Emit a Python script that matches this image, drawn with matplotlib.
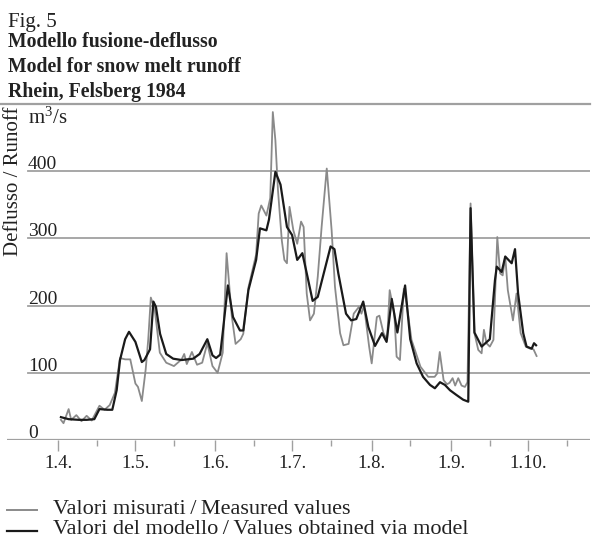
import matplotlib
matplotlib.use("Agg")
import matplotlib.pyplot as plt
from matplotlib.lines import Line2D

# days counted from 1 April 1984
measured_day = [1, 2, 4, 5, 7, 9, 11, 13, 16, 18, 20, 22, 24, 26, 28, 30, 31, 32.5, 34, 35,
                36, 37.5, 39.5, 42, 45, 48, 49, 50, 52, 54, 56, 58, 60, 62, 64, 65.5, 67.5, 69,
                71, 72, 74, 77, 78, 79, 81, 82.5, 83.5, 84.5, 85.5, 87, 88, 89, 90, 91.5, 93,
                94.5, 95.5, 96.7, 98, 99.5, 101, 102.5, 104.5, 106.4, 107.7, 109.7, 111, 113,
                115, 117, 118, 119, 121, 122, 124, 125, 126.6, 128, 129, 130.8, 131.7, 133,
                134.5, 135.5, 137.5, 141, 144, 146.5, 147.5, 148.5, 150, 151.3, 152.3, 153.5,
                154.5, 155.7, 157, 158.3, 159.3, 160.5, 162, 163.5, 164.8, 165.7, 166.7, 168,
                169.4, 170.9, 172, 173, 174, 175, 177, 178.4, 180, 182, 183.6, 185, 186.2]
measured_val = [30, 25, 46, 30, 37, 28, 36, 29, 51, 45, 52, 70, 122, 120, 120, 84, 79, 58, 105, 150,
                212, 195, 130, 115, 110, 120, 128, 113, 131, 112, 115, 144, 110, 100, 130, 278, 185, 143,
                150, 158, 227, 276, 337, 349, 334, 360, 488, 446, 372, 297, 268, 263, 347, 312, 292,
                325, 317, 218, 178, 188, 243, 317, 404, 312, 228, 159, 141, 143,
                188, 198, 188, 200, 139, 114, 183, 185, 159, 149, 223, 188, 124, 119,
                225, 205, 149, 109, 94, 94, 99, 131, 89, 83, 85, 92,
                81, 92, 81, 79, 86, 352, 159, 134, 129, 164, 144, 139,
                149, 302, 248, 245, 273, 223, 178, 218, 159, 139, 136, 135, 125]

model_day = [1, 4, 8, 11, 14, 16, 19, 21, 22.7, 24, 26, 27.5, 30, 32.5, 33.5, 35.7, 37, 38, 39.6,
             42, 44.7, 48, 52.5, 55, 58, 60, 61.4, 63, 64, 66, 68, 70.7, 72, 74, 77, 78.5, 81, 82,
             84.5, 86.5, 89, 91, 93, 95, 97, 99, 101, 104, 106, 107.5, 109, 112, 114, 116, 118.7,
             120.7, 123.3, 126, 127.8, 129.8, 132, 135, 137, 139.5, 142, 144.7, 146.6, 148.6,
             150.5, 152.5, 155, 157.6, 159.6, 160.5, 162, 164.8, 168, 170, 170.7, 172.6, 174,
             176.5, 177.8, 179, 181, 182.3, 184.3, 185.2, 186]
model_val = [34, 31, 30, 30, 31, 46, 45, 45, 74, 119, 150, 161, 146, 116, 119, 135, 206, 198, 158,
             128, 121, 119, 121, 128, 150, 126, 122, 127, 160, 230, 183, 163, 163, 223, 268, 315, 312, 328,
             399, 380, 317, 305, 268, 278, 243, 207, 213, 258, 288, 284, 248, 188, 178, 180, 206,
             168, 140, 159, 146, 210, 160, 230, 150, 114, 94, 82, 77, 86,
             82, 74, 67, 60, 57, 345, 160, 139, 150, 238, 258, 250, 273,
             263, 284, 218, 159, 139, 136, 144, 141]

month_start = [0, 30, 61, 91, 122, 153, 183]
month_label = ["1.4.", "1.5.", "1.6.", "1.7.", "1.8.", "1.9.", "1.10."]
grid_vals = [100, 200, 300, 400]

serif = ["Liberation Serif", "DejaVu Serif"]
plt.rcParams["font.family"] = serif
plt.rcParams["mathtext.default"] = "regular"

W, H = 593, 539
fig = plt.figure(figsize=(W / 100, H / 100), dpi=100)
ax = fig.add_axes([7 / W, 1 - 440 / H, 583 / W, 336 / H])
ax.set_xlim(-20, 207)
ax.set_ylim(0, 500)
for s in ax.spines.values():
    s.set_visible(False)

grid_col = "#a0a0a0"
for v in grid_vals:
    ax.axhline(v, xmin=21 / 583, xmax=1, color=grid_col, lw=1.3, zorder=1)
ax.axhline(0, color=grid_col, lw=1.6, zorder=1)
fig.add_artist(Line2D([0, 590 / W], [1 - 104 / H] * 2, color=grid_col, lw=1.6))

ax.plot(measured_day, measured_val, color="#8a8a8a", lw=1.3, zorder=3)
ax.plot(model_day, model_val, color="#1a1a1a", lw=1.6, zorder=4)

# y labels sit on top of the grid lines
lab_x = -11.8
for v in [0] + grid_vals:
    ax.text(lab_x, v + 3, str(v), fontsize=14, color="#222222", va="baseline", ha="left")
ax.text(lab_x, 471, "m$^{3}$/s", fontsize=15, color="#222222", va="baseline", ha="left")
ax.set_yticks([])

ax.set_xticks(month_start)
ax.set_xticklabels(month_label, fontsize=13.5, color="#222222")
ax.set_xticks([d + 15 for d in month_start], minor=True)
ax.tick_params(axis="x", which="major", length=8, width=1, color=grid_col, pad=3)
ax.tick_params(axis="x", which="minor", length=4.5, width=1, color=grid_col)

fig.text(13.5 / W, 1 - 181 / H, "Deflusso / Runoff", rotation=90, fontsize=15,
         ha="center", va="center", color="#222222")

fig.text(8 / W, 1 - 26.5 / H, "Fig. 5", fontsize=15, va="baseline", color="#222222")
fig.text(8 / W, 1 - 46.7 / H, "Modello fusione-deflusso", fontsize=14.2, fontweight="bold",
         va="baseline", color="#222222")
fig.text(8 / W, 1 - 72 / H, "Model for snow melt runoff", fontsize=14.2, fontweight="bold",
         va="baseline", color="#222222")
fig.text(8 / W, 1 - 97 / H, "Rhein, Felsberg 1984", fontsize=14.2, fontweight="bold",
         va="baseline", color="#222222")

# legend
fig.add_artist(Line2D([7 / W, 37 / W], [1 - 510 / H] * 2, color="#8a8a8a", lw=1.4))
fig.add_artist(Line2D([7 / W, 37 / W], [1 - 531 / H] * 2, color="#1a1a1a", lw=1.6))
fig.text(53 / W, 1 - 514 / H, "Valori misurati\u2009/\u2009Measured values", fontsize=16,
         va="baseline", color="#222222")
fig.text(53 / W, 1 - 534 / H, "Valori del modello\u2009/\u2009Values obtained via model", fontsize=16,
         va="baseline", color="#222222")

fig.savefig("out.png", dpi=100)
